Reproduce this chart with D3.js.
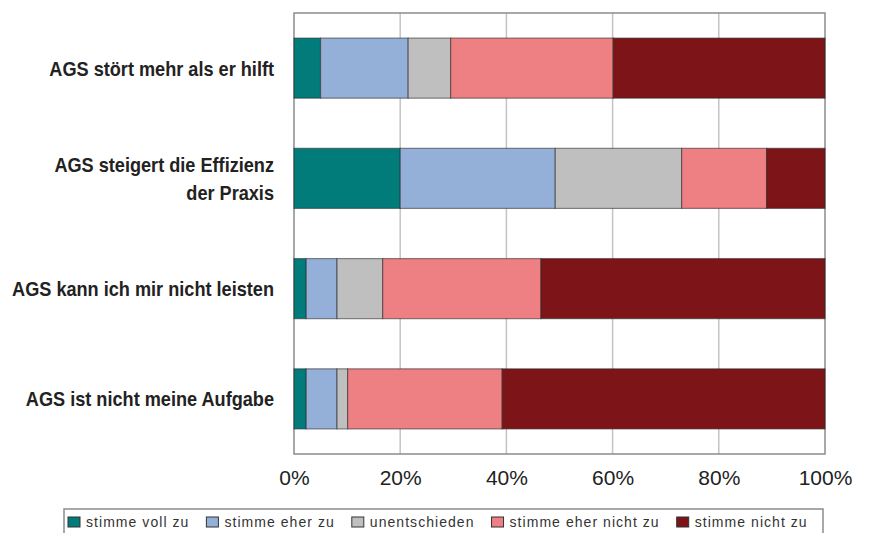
<!DOCTYPE html>
<html>
<head>
<meta charset="utf-8">
<script src="https://cdn.jsdelivr.net/npm/d3@7"></script>
<style>
  html, body { margin: 0; padding: 0; background: #fff; }
  svg { display: block; font-family: "Liberation Sans", Arial, sans-serif; }
</style>
</head>
<body>
<svg id="chart" width="870" height="533"></svg>
<script>
// Statements (top to bottom), second one wraps onto two lines
const categories = [
  "AGS stört mehr als er hilft",
  "AGS steigert die Effizienz|der Praxis",
  "AGS kann ich mir nicht leisten",
  "AGS ist nicht meine Aufgabe"
];

// Answer options, in stacking order
const seriesNames = [
  "stimme voll zu",
  "stimme eher zu",
  "unentschieden",
  "stimme eher nicht zu",
  "stimme nicht zu"
];

// Share of answers per statement (%), one array per answer option
const volleZustimmung   = [5.0, 20.0, 2.3, 2.3];
const eherZustimmung    = [16.5, 29.2, 5.8, 5.8];
const unentschieden     = [8.0, 23.8, 8.6, 2.0];
const eherAblehnung     = [30.6, 16.0, 29.8, 29.1];
const ablehnung         = [39.9, 11.0, 53.5, 60.8];

const tickValues = [0, 20, 40, 60, 80, 100];

const colors = ["#017c7b", "#94b0d8", "#bfbfbf", "#ee7f83", "#7d1418"];

const seriesValues = [volleZustimmung, eherZustimmung, unentschieden, eherAblehnung, ablehnung];
const rows = categories.map((c, i) => {
  const r = { category: c };
  seriesNames.forEach((s, j) => { r[s] = seriesValues[j][i]; });
  return r;
});

const svg = d3.select("#chart");
const margin = { left: 294, right: 45, top: 13, bottom: 80 };
const W = 870, H = 533;
const plotW = W - margin.left - margin.right;
const plotH = H - margin.top - margin.bottom + 1;

const x = d3.scaleLinear().domain([0, 100]).range([margin.left, margin.left + plotW]);
const y = d3.scaleBand().domain(categories).range([margin.top, margin.top + plotH])
  .paddingInner(0.455).paddingOuter(0.2275);

const g = svg.append("g");

// vertical gridlines
g.append("g").selectAll("line").data(tickValues.slice(1, -1)).join("line")
  .attr("x1", d => x(d)).attr("x2", d => x(d))
  .attr("y1", margin.top).attr("y2", margin.top + plotH)
  .attr("stroke", "#c4c4c4").attr("stroke-width", 1.5);

// plot frame
g.append("rect")
  .attr("x", x(0)).attr("y", margin.top)
  .attr("width", x(100) - x(0)).attr("height", plotH)
  .attr("fill", "none").attr("stroke", "#8c8c8c").attr("stroke-width", 1.5);

// stacked bars
const stacked = d3.stack().keys(seriesNames)(rows);
g.append("g").selectAll("g").data(stacked).join("g")
  .attr("fill", (d, i) => colors[i])
  .selectAll("rect").data(d => d).join("rect")
  .attr("x", d => x(d[0]))
  .attr("y", d => y(d.data.category))
  .attr("width", d => x(d[1]) - x(d[0]))
  .attr("height", y.bandwidth())
  .attr("stroke", "#2a2a2a").attr("stroke-opacity", 0.55).attr("stroke-width", 1.2);

// x axis
const xAxis = d3.axisBottom(x).tickValues(tickValues).tickFormat(d => d + "%").tickSize(0).tickPadding(16);
const ax = svg.append("g").attr("transform", `translate(0,${margin.top + plotH})`).call(xAxis);
ax.select(".domain").remove();
ax.selectAll("text").attr("font-size", 21).attr("fill", "#222")
  .attr("font-family", '"Liberation Sans", Arial, sans-serif');

// category labels (slightly condensed bold type)
const lab = svg.append("g").selectAll("text").data(categories).join("text")
  .attr("text-anchor", "end")
  .attr("font-size", 20.5).attr("font-weight", "bold").attr("fill", "#222")
  .attr("transform", d => `translate(274,${y(d) + y.bandwidth() / 2}) scale(0.885,1)`);
lab.each(function (d) {
  const lines = d.split("|");
  const t = d3.select(this);
  lines.forEach((l, i) => {
    t.append("tspan").attr("x", 0)
      .attr("y", (i - (lines.length - 1) / 2) * 28)
      .attr("dy", "0.36em").text(l);
  });
});

// legend
const leg = svg.append("g");
leg.append("rect").attr("x", 64).attr("y", 509).attr("width", 759).attr("height", 40)
  .attr("fill", "#fff").attr("stroke", "#8c8c8c").attr("stroke-width", 1.5);
let lx = 68;
seriesNames.forEach((s, i) => {
  leg.append("rect").attr("x", lx).attr("y", 517).attr("width", 12).attr("height", 10)
    .attr("fill", colors[i]).attr("stroke", "#333").attr("stroke-width", 1);
  const t = leg.append("text").attr("x", lx + 18).attr("y", 522).attr("dy", "0.35em")
    .attr("font-size", 14).attr("letter-spacing", 1.05).attr("fill", "#333").text(s);
  lx += 18 + t.node().getComputedTextLength() + 17;
});
</script>
</body>
</html>
